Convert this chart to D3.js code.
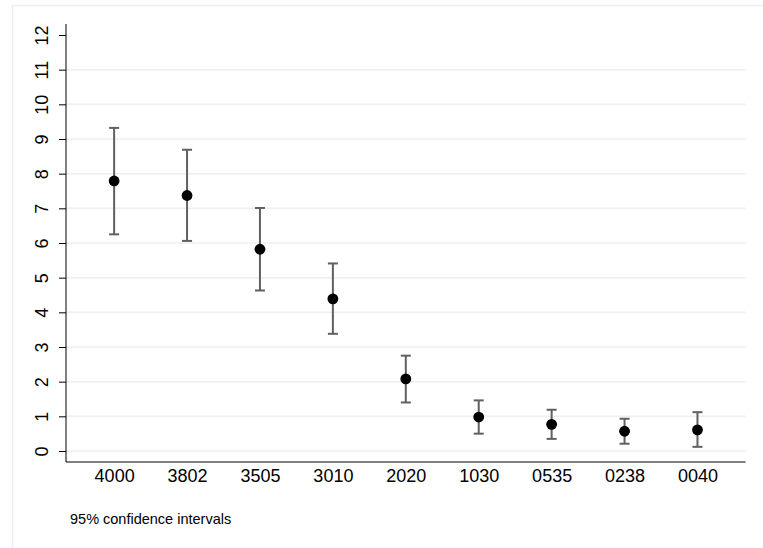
<!DOCTYPE html>
<html>
<head>
<meta charset="utf-8">
<script src="https://cdn.jsdelivr.net/npm/d3@7"></script>
<style>
  body { margin: 0; background: #fff; overflow: hidden; }
  text { font-family: "Liberation Sans", Arial, sans-serif; }
</style>
</head>
<body>
<div id="chart_container"></div>
<script>
// categories and estimates
var categories = ['4000', '3802', '3505', '3010', '2020', '1030', '0535', '0238', '0040']
var estimates  = [7.79, 7.37, 5.82, 4.39, 2.08, 0.98, 0.77, 0.57, 0.61]
var lower_ci   = [6.25, 6.06, 4.63, 3.38, 1.40, 0.50, 0.35, 0.21, 0.12]
var upper_ci   = [9.32, 8.69, 7.01, 5.41, 2.75, 1.46, 1.19, 0.93, 1.12]
var y_ticks    = [0, 1, 2, 3, 4, 5, 6, 7, 8, 9, 10, 11, 12]
var grid_ticks = [0, 1, 2, 3, 4, 5, 6, 7, 8, 9, 10, 11]
var note_text  = '95% confidence intervals'

var width = 763, height = 548

var svg = d3.select("#chart_container")
            .append("svg")
            .attr("width", width)
            .attr("height", height)

// outer frame (right and bottom edges fall outside the picture)
svg.append("rect")
    .attr("x", 12.5).attr("y", 5.5)
    .attr("width", 760).attr("height", 560)
    .attr("fill", "none")
    .attr("stroke", "#eaf0f2")
    .attr("stroke-width", 1.5)

var plot_left = 66, plot_right = 745.6, plot_bottom = 462, plot_top = 24

var x = d3.scalePoint()
            .domain(categories)
            .range([plot_left, plot_right])
            .padding(0.66)

var y = d3.scaleLinear()
            .domain([0, 12])
            .range([451, 35])

// gridlines
svg.append("g")
    .selectAll("line")
    .data(grid_ticks)
    .enter()
    .append("line")
        .attr("x1", plot_left).attr("x2", plot_right)
        .attr("y1", function(d){ return y(d) }).attr("y2", function(d){ return y(d) })
        .attr("stroke", "#eaf0f2")
        .attr("stroke-width", 1.5)

// y axis
var y_axis = svg.append("g")
    .attr("transform", "translate(" + plot_left + ",0)")
    .call(d3.axisLeft(y).tickValues(y_ticks).tickSize(7).tickPadding(0).tickFormat(d3.format("d")))
y_axis.select(".domain").attr("d", "M0," + plot_top + "V" + plot_bottom).attr("stroke", "#000")
y_axis.selectAll(".tick line").attr("stroke", "#000")
y_axis.selectAll(".tick text")
    .attr("x", 0).attr("dy", null)
    .attr("transform", "translate(-18,0) rotate(-90)")
    .attr("text-anchor", "middle")
    .attr("font-size", 18)
    .attr("fill", "#000")
    .style("font-family", "Liberation Sans, Arial, sans-serif")

// x axis
var x_axis = svg.append("g")
    .attr("transform", "translate(0," + plot_bottom + ")")
    .call(d3.axisBottom(x).tickSize(0).tickPadding(0))
x_axis.select(".domain").attr("d", "M" + plot_left + ",0H" + plot_right).attr("stroke", "#000")
x_axis.selectAll(".tick text")
    .attr("y", 20).attr("dy", null)
    .attr("font-size", 18)
    .attr("fill", "#000")
    .style("font-family", "Liberation Sans, Arial, sans-serif")

// confidence intervals
var ci = svg.append("g")
    .selectAll("g")
    .data(categories)
    .enter()
    .append("g")
        .attr("stroke", "#606060")
        .attr("stroke-width", 2)

ci.append("line")
    .attr("x1", function(d){ return x(d) }).attr("x2", function(d){ return x(d) })
    .attr("y1", function(d, i){ return y(lower_ci[i]) })
    .attr("y2", function(d, i){ return y(upper_ci[i]) })
ci.append("line")
    .attr("x1", function(d){ return x(d) - 5 }).attr("x2", function(d){ return x(d) + 5 })
    .attr("y1", function(d, i){ return y(lower_ci[i]) })
    .attr("y2", function(d, i){ return y(lower_ci[i]) })
ci.append("line")
    .attr("x1", function(d){ return x(d) - 5 }).attr("x2", function(d){ return x(d) + 5 })
    .attr("y1", function(d, i){ return y(upper_ci[i]) })
    .attr("y2", function(d, i){ return y(upper_ci[i]) })

// point estimates
svg.append("g")
    .selectAll("circle")
    .data(categories)
    .enter()
    .append("circle")
        .attr("cx", function(d){ return x(d) })
        .attr("cy", function(d, i){ return y(estimates[i]) })
        .attr("r", 5.4)
        .attr("fill", "#000")

// note
svg.append("text")
    .attr("x", 70).attr("y", 524)
    .attr("font-size", 14.5)
    .attr("fill", "#000")
    .text(note_text)
</script>
</body>
</html>
